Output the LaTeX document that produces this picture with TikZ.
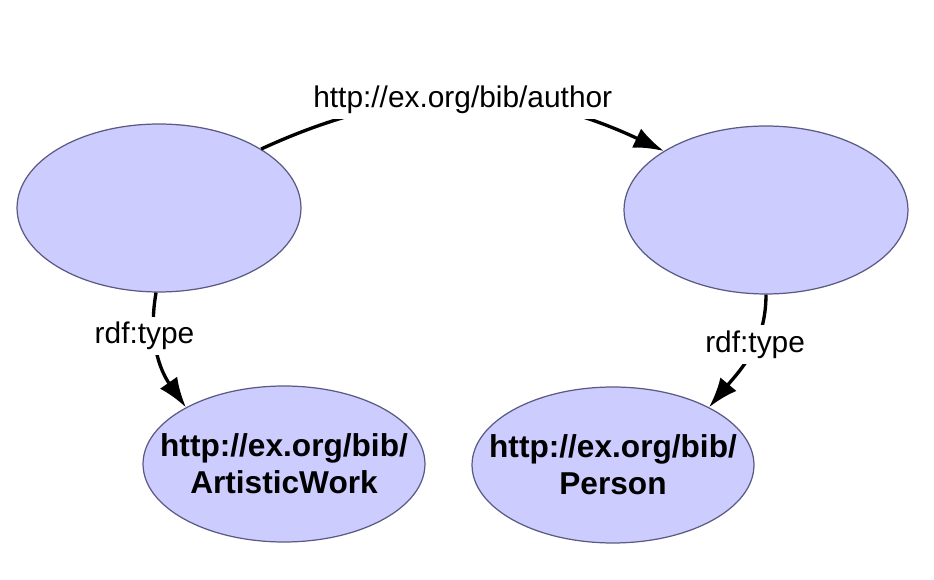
\documentclass[tikz,border=0pt]{standalone}
\usepackage{fontspec}
\setmainfont{Liberation Sans}
\usetikzlibrary{arrows.meta,shapes.geometric}
\definecolor{nodefill}{RGB}{204,204,255}
\definecolor{nodeline}{RGB}{90,90,130}

\begin{document}
\begin{tikzpicture}[x=0.02cm, y=-0.02cm,
  res/.style={ellipse, draw=nodeline, fill=nodefill, line width=0.7pt,
    minimum width=5.68cm, minimum height=3.36cm},
  cls/.style={ellipse, draw=nodeline, fill=nodefill, line width=0.7pt,
    minimum width=5.64cm, minimum height=3.12cm},
  clstext/.style={align=center, font=\fontsize{18}{21}\selectfont\bfseries},
  prop/.style={-{Latex[length=0.6cm,width=0.42cm]}, line width=1.9pt},
  lbl/.style={fill=white, font=\fontsize{17}{20}\selectfont, inner sep=3pt}]
\useasboundingbox (0,0) rectangle (934,580);
% resources
\node[res] (book) at (159,208) {};
\node[res] (writer) at (766,210) {};
% classes
\node[cls, label={[clstext]center:{http://ex.org/bib/\\ArtisticWork}}] (artwork) at (284,464) {};
\node[cls, label={[clstext]center:{http://ex.org/bib/\\Person}}] (person) at (613,465) {};
% properties
\draw[prop] (book.30) to[bend left=25] node[lbl] {http://ex.org/bib/author} (writer.150);
\draw[prop] (book.268) to[out=260, in=125] node[lbl, pos=0.35, xshift=-0.2cm] {rdf:type} (artwork.150);
\draw[prop] (writer.270) to[out=270, in=50] node[lbl, pos=0.4] {rdf:type} (person.31);
\end{tikzpicture}
\end{document}
